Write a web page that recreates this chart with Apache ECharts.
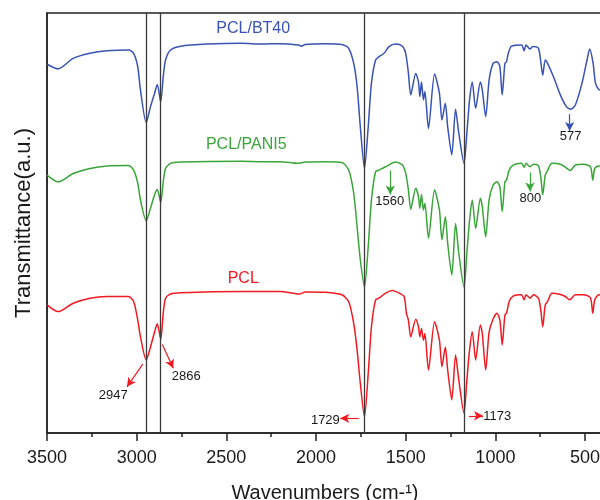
<!DOCTYPE html>
<html>
<head>
<meta charset="utf-8">
<script src="https://cdn.jsdelivr.net/npm/echarts@6/dist/echarts.min.js"></script>
<style>html,body{margin:0;padding:0;background:#fff;}#c{width:600px;height:500px;}</style>
</head>
<body>
<div id="c"></div>
<script>
// ---- data (wavenumber in cm-1, transmittance in arbitrary units) ----
const bt40Wn = [3500,3438,3354,3260,3166,3045,3017,2994,2979,2947,2923,2900,2885,2866,2852,2839,2811,2755,2605,2417,2300,2200,2099,2080,2062,1950,1856,1818,1790,1771,1753,1730,1709,1691,1668,1649,1621,1593,1556,1518,1500,1485,1472,1444,1429,1421,1412,1401,1393,1373,1339,1312,1298,1279,1266,1243,1222,1204,1175,1159,1144,1129,1110,1084,1073,1054,1035,1013,991,975,962,947,938,928,910,854,840,829,807,792,760,747,736,722,709,676,638,604,580,554,517,489,474,455,442,423,400];
const bt40T = [87.8,86.7,89.2,90.4,91.0,91.2,90.4,87.2,81.7,73.9,77.7,80.9,83.0,78.9,84.8,88.8,91.2,92.1,92.6,92.8,92.6,92.7,92.4,92.1,92.5,92.7,92.5,91.6,88.0,82.5,72.9,63.0,72.9,83.3,88.8,89.6,90.4,92.0,92.6,92.1,90.4,85.7,80.5,85.6,83.6,80.1,83.6,79.3,81.3,72.5,85.5,80.9,74.5,78.5,72.9,66.2,77.1,71.4,64.2,71.4,79.3,83.6,77.3,83.6,81.7,75.3,84.0,88.0,88.4,87.2,80.5,88.0,88.4,90.4,92.1,92.4,91.0,92.4,91.4,92.0,91.6,88.4,85.2,88.8,88.0,84.8,80.5,77.7,77.1,78.1,83.3,88.8,91.4,88.0,83.3,81.8,81.5];

const pani5Wn = [3500,3438,3354,3260,3166,3045,3017,2994,2979,2947,2923,2900,2885,2866,2852,2839,2811,2755,2417,2300,2200,2099,2062,1950,1856,1818,1790,1771,1753,1730,1709,1691,1668,1649,1612,1556,1518,1500,1485,1472,1444,1429,1421,1412,1401,1393,1373,1339,1312,1298,1279,1266,1243,1222,1204,1175,1159,1144,1129,1110,1084,1073,1054,1035,1013,991,975,962,947,938,923,901,854,840,829,807,787,760,747,736,722,709,685,638,610,582,554,507,470,457,446,423,400];
const pani5T = [61.4,59.8,61.8,63.0,63.6,63.7,62.6,59.5,55.5,50.5,53.5,56.7,58.0,54.9,59.8,63.0,64.2,64.5,64.7,64.6,64.6,64.2,64.5,64.6,64.4,62.6,57.1,49.1,41.2,34.8,44.4,55.5,62.2,62.6,63.4,64.5,63.8,61.8,57.9,53.3,58.3,56.3,53.5,56.8,53.1,54.7,46.4,57.9,53.1,46.0,51.5,45.2,37.6,49.9,42.8,34.8,42.8,50.7,55.5,48.7,55.9,53.9,46.7,55.5,59.0,59.8,58.6,52.7,59.8,60.2,62.6,63.8,64.2,63.3,64.2,63.4,64.0,63.6,61.0,56.7,61.4,62.5,64.2,64.0,63.3,62.5,63.8,64.0,63.4,60.2,63.0,63.6,63.6];

const pclWn = [3500,3438,3354,3260,3166,3045,3017,2994,2979,2947,2923,2900,2885,2866,2852,2839,2811,2755,2417,2300,2200,2090,2060,1950,1856,1818,1790,1771,1753,1730,1709,1691,1668,1649,1612,1575,1537,1509,1496,1485,1472,1444,1429,1421,1412,1401,1393,1373,1339,1312,1298,1279,1266,1243,1222,1204,1175,1159,1144,1129,1110,1084,1073,1054,1035,1013,991,975,962,947,938,923,901,854,840,829,807,787,760,747,736,722,709,685,638,610,586,554,507,470,457,446,423,400];
const pclT = [30.5,28.9,30.9,32.1,32.5,32.5,31.3,26.9,22.9,17.4,20.5,24.1,26.0,22.3,28.5,32.1,33.1,33.4,33.7,33.7,33.7,33.1,33.6,33.5,32.9,31.3,26.1,19.8,11.8,3.9,14.2,25.3,31.7,32.1,33.3,33.9,33.3,32.5,28.5,26.9,22.9,27.1,25.3,22.9,24.9,22.1,23.7,15.0,26.5,22.1,15.8,20.5,15.0,7.9,18.6,12.6,4.7,12.6,19.8,24.1,17.4,25.7,23.7,15.0,24.1,27.1,28.5,26.9,21.0,28.1,28.5,31.3,32.6,32.9,31.7,32.9,32.1,32.9,32.1,29.3,25.3,30.5,31.3,33.3,33.0,32.5,31.7,32.9,32.9,32.2,28.5,31.7,32.9,32.8];

const seriesNames = ['PCL/BT40', 'PCL/PANI5', 'PCL'];
const guideLines = [2947, 2866, 1729, 1173];
const majorTicks = [3500, 3000, 2500, 2000, 1500, 1000, 500];
const minorTicks = [3250, 2750, 2250, 1750, 1250, 750];

// annotation arrows: [x1, y1, x2, y2] (data units), and labels [text, x, y]
const bt40Arrows = [[586, 75.9, 586, 71.9]];
const bt40Labels = [['577', 580, 70.5]];
const pani5Arrows = [[1586, 62.5, 1586, 56.8], [807, 62.0, 807, 57.5]];
const pani5Labels = [['1560', 1589, 55.1], ['800', 805, 55.9]];
const pclArrows = [[2966, 16.4, 3054, 11.0], [2857, 21.1, 2796, 15.4], [1762, 3.5, 1865, 3.5], [1148, 4.1, 1069, 4.1]];
const pclLabels = [['2947', 3131, 8.9], ['2866', 2724, 13.4], ['1729', 1948, 3.1], ['1173', 990, 3.9]];
const nameLabelPos = [[2350, 96.2], [2389, 68.6], [2406, 36.7]];

const colors = ['#3853b4', '#3aa53a', '#f01a22'];
const FONT = '"Liberation Sans", Arial, sans-serif';

function zip(a, b) { return a.map((v, i) => [v, b[i]]); }

function arrowLines(arrs, color) {
  return arrs.map(a => [
    { coord: [a[0], a[1]], lineStyle: { color: color, width: 1.2, type: 'solid' } },
    { coord: [a[2], a[3]] }
  ]);
}
function textPoints(labels, color, size) {
  return labels.map(l => ({
    coord: [l[1], l[2]], value: l[0],
    label: { color: color, fontSize: size }
  }));
}

const chart = echarts.init(document.getElementById('c'), null, { renderer: 'canvas' });

const datasets = [zip(bt40Wn, bt40T), zip(pani5Wn, pani5T), zip(pclWn, pclT)];
const arrows = [bt40Arrows, pani5Arrows, pclArrows];
const labels = [bt40Labels, pani5Labels, pclLabels];

const series = datasets.map((d, i) => {
  const mpData = textPoints(labels[i], '#1a1a1a', 13);
  mpData.push({ coord: nameLabelPos[i], value: seriesNames[i], label: { color: colors[i], fontSize: 16 } });
  return {
    name: seriesNames[i],
    type: 'line',
    data: d,
    showSymbol: false,
    smooth: 0.25,
    lineStyle: { color: colors[i], width: 1.5 },
    itemStyle: { color: colors[i] },
    z: 3,
    animation: false,
    markLine: {
      silent: true, animation: false,
      symbol: ['none', 'arrow'], symbolSize: [7, 9],
      label: { show: false },
      data: arrowLines(arrows[i], colors[i])
    },
    markPoint: {
      silent: true, animation: false,
      symbol: 'circle', symbolSize: 1,
      itemStyle: { color: 'rgba(0,0,0,0)' },
      label: { show: true, position: 'inside', formatter: p => p.value, fontFamily: FONT },
      data: mpData
    }
  };
});

// vertical guide lines
series.push({
  name: 'guides',
  type: 'line',
  data: [],
  z: 2,
  animation: false,
  markLine: {
    silent: true, animation: false,
    symbol: 'none',
    label: { show: false },
    lineStyle: { color: '#3a3a3a', width: 1.3, type: 'solid' },
    data: guideLines.map(g => ({ xAxis: g }))
  }
});

const numFmt = v => String(v);

const option = {
  animation: false,
  backgroundColor: '#fff',
  grid: { left: 47, right: -3, top: 13, bottom: 67, outerBoundsMode: 'none', containLabel: false, show: true, borderColor: '#222', borderWidth: 1.5, backgroundColor: 'rgba(0,0,0,0)' },
  xAxis: [{
    type: 'value', inverse: true, min: 400, max: 3500,
    position: 'bottom',
    name: 'Wavenumbers (cm-\u00b9)', nameLocation: 'middle', nameGap: 50,
    nameTextStyle: { fontFamily: FONT, fontSize: 20, color: '#1a1a1a' },
    axisLine: { show: true, lineStyle: { color: '#222', width: 1.5 } },
    axisTick: { show: true, inside: false, length: 8, lineStyle: { color: '#222', width: 1.5 }, customValues: majorTicks },
    axisLabel: { show: true, fontFamily: FONT, fontSize: 18, color: '#1a1a1a', margin: 16, customValues: majorTicks, formatter: numFmt },
    splitLine: { show: false }
  }, {
    type: 'value', inverse: true, min: 400, max: 3500,
    position: 'bottom',
    axisLine: { show: false },
    axisTick: { show: true, inside: false, length: 4, lineStyle: { color: '#222', width: 1.5 }, customValues: minorTicks },
    axisLabel: { show: false },
    splitLine: { show: false }
  }],
  yAxis: {
    type: 'value', min: 0, max: 100,
    name: 'Transmittance(a.u.)', nameLocation: 'middle', nameGap: 12,
    nameTextStyle: { fontFamily: FONT, fontSize: 22, color: '#1a1a1a' },
    axisLine: { show: true, lineStyle: { color: '#222', width: 1.5 } },
    axisTick: { show: false },
    axisLabel: { show: false },
    splitLine: { show: false }
  },
  series: series
};
chart.setOption(option);
</script>
</body>
</html>
